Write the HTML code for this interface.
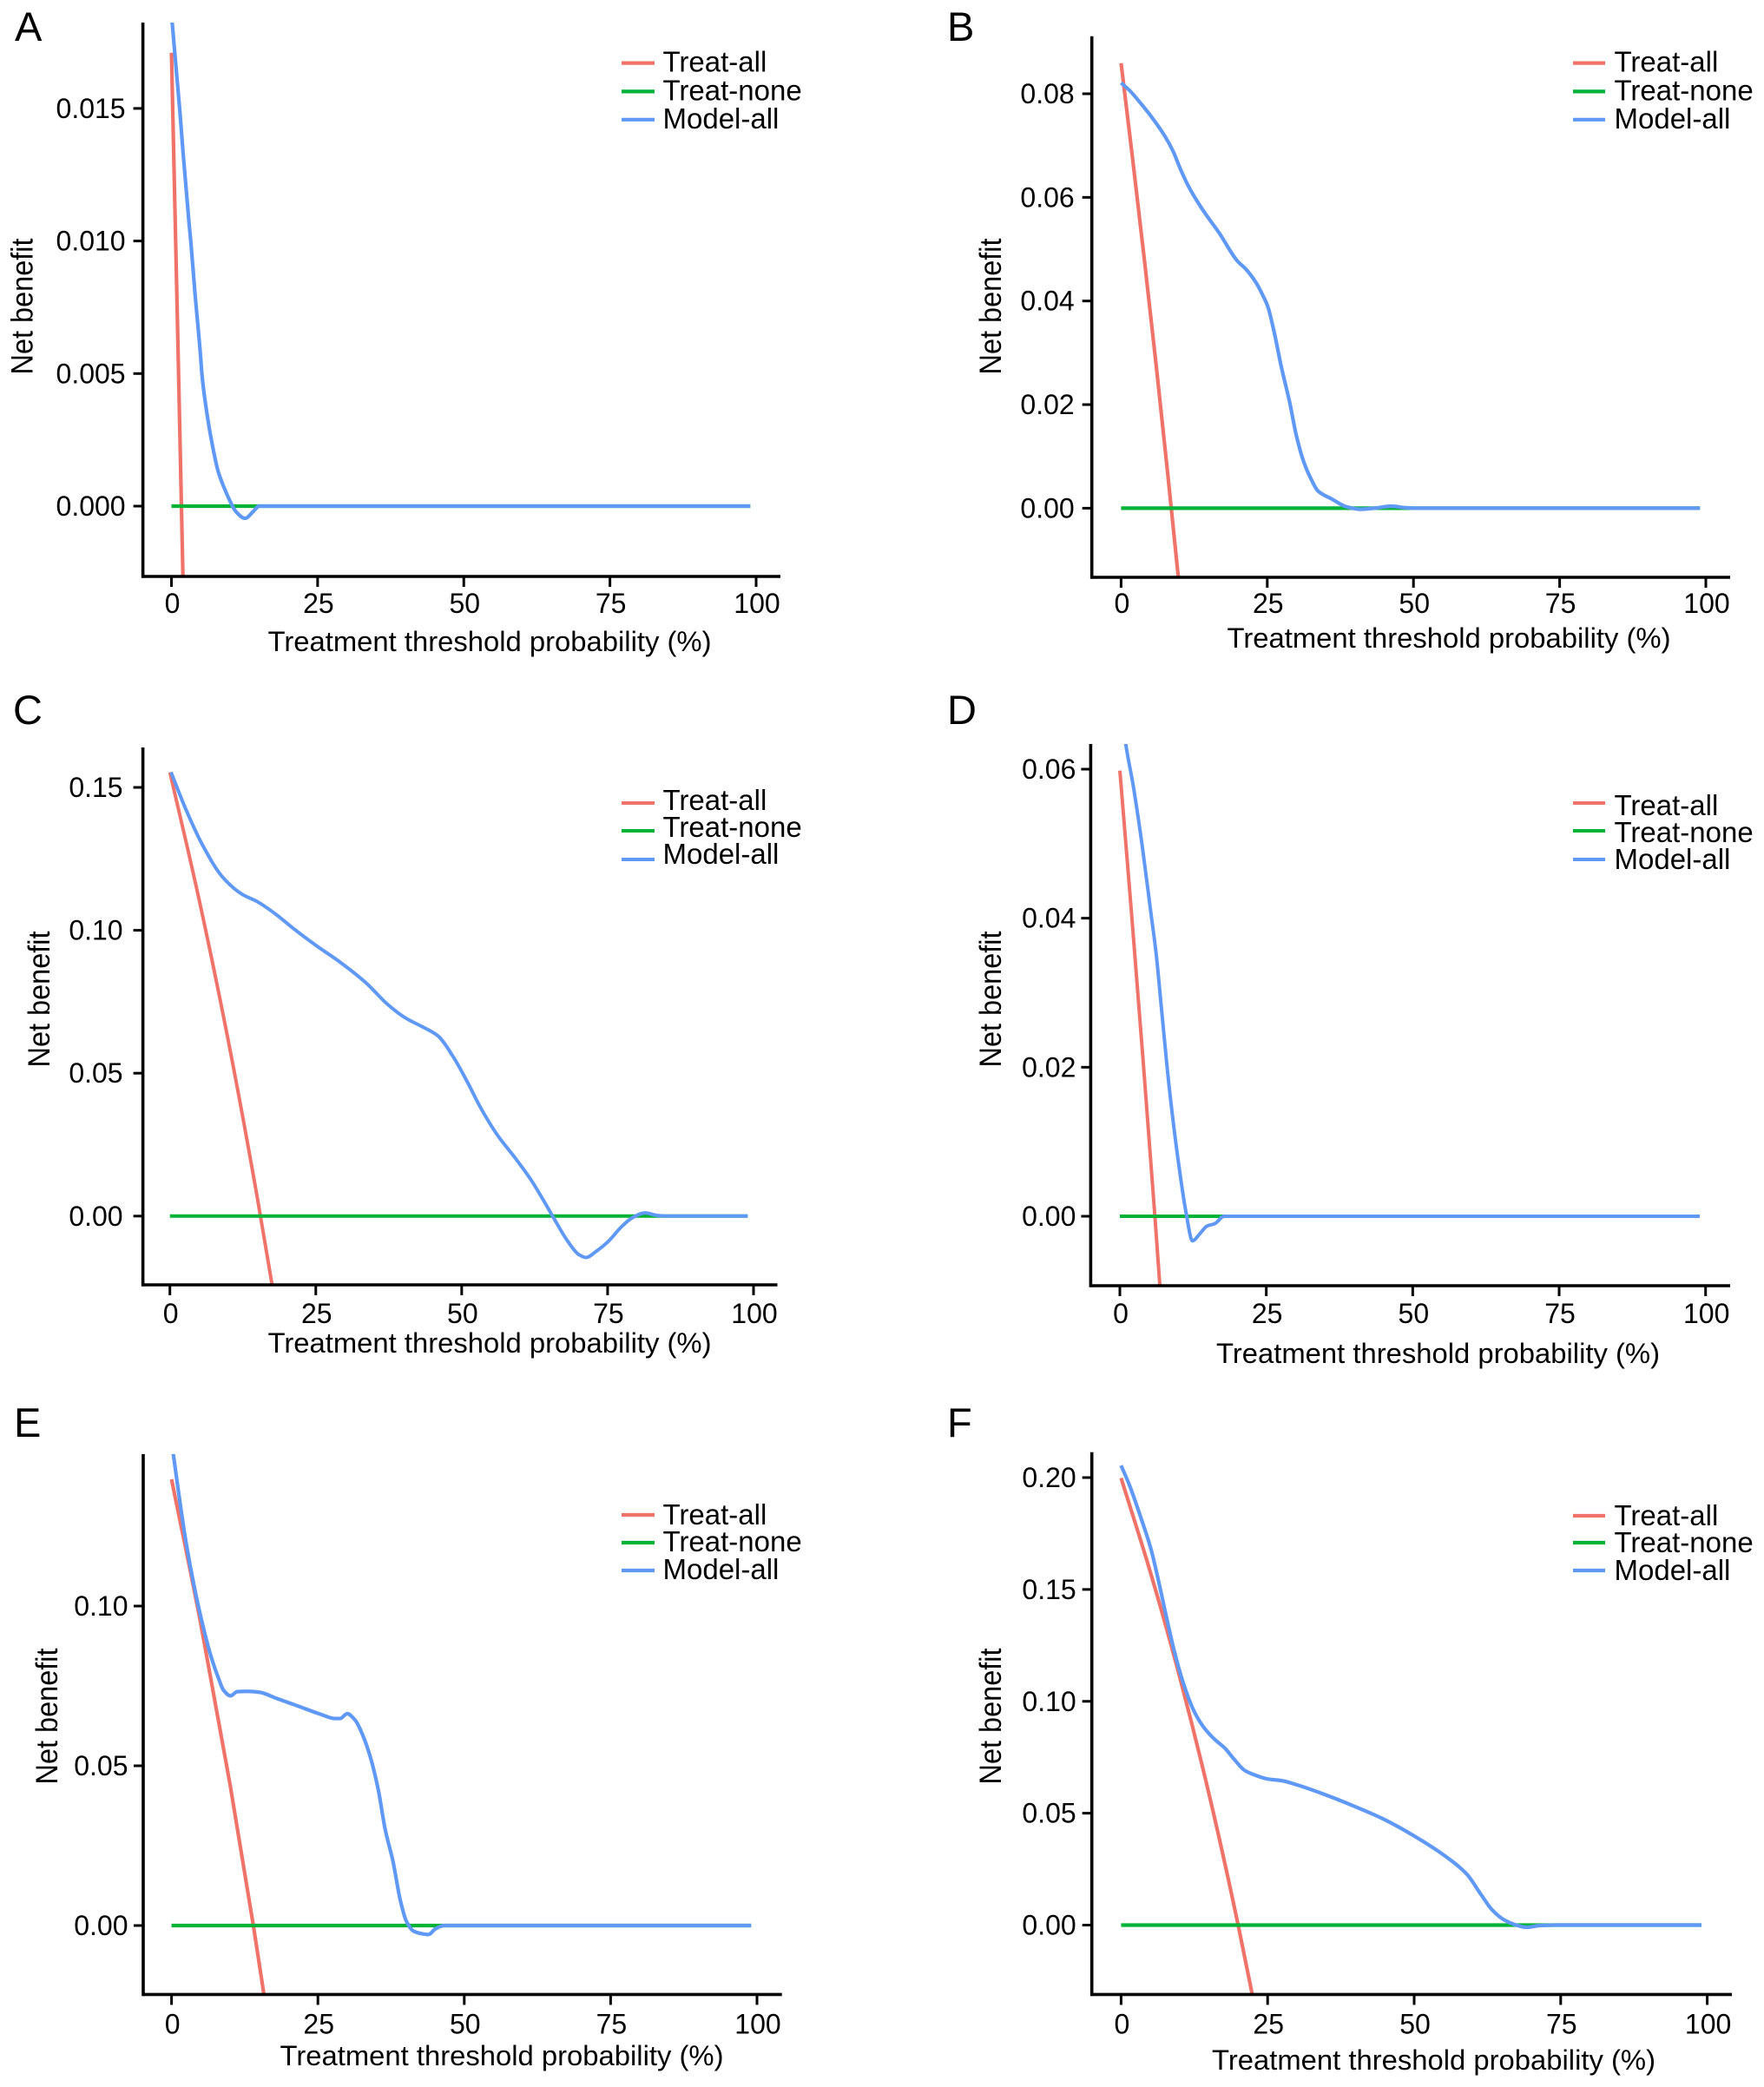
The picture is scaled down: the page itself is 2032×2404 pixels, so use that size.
<!DOCTYPE html>
<html lang="en">
<head>
<meta charset="utf-8">
<title>Decision curve analysis panels A–F</title>
<style>
html,body{margin:0;padding:0;background:#fff;width:2032px;height:2404px;overflow:hidden}
svg{display:block}
text{font-family:"Liberation Sans",Arial,sans-serif;fill:#000}
.tick-label{font-size:32px}
.axis-title{font-size:32px}
.legend-label{font-size:33px}
.y-title{font-size:35px}
.panel-letter{font-size:47px}
</style>
</head>
<body>
<svg id="figure" xmlns="http://www.w3.org/2000/svg" width="2032" height="2404" viewBox="0 0 2032 2404">
<rect width="2032" height="2404" fill="#fff"/>

<g id="panel-a">
  <text class="panel-letter" x="17" y="47">A</text>
  <text class="y-title" transform="translate(37.5,353) rotate(-90)" text-anchor="middle" textLength="157" lengthAdjust="spacingAndGlyphs">Net benefit</text>
  <text class="axis-title" x="564" y="750" text-anchor="middle" textLength="511" lengthAdjust="spacingAndGlyphs">Treatment threshold probability (%)</text>
  <g>
    <line x1="716" x2="754" y1="72.6" y2="72.6" stroke="#F0736A" stroke-width="4.2"/><text class="legend-label" x="763.5" y="82.5">Treat-all</text>
    <line x1="716" x2="754" y1="105.4" y2="105.4" stroke="#00B336" stroke-width="4.2"/><text class="legend-label" x="763.5" y="115.5">Treat-none</text>
    <line x1="716" x2="754" y1="137.8" y2="137.8" stroke="#5F99F5" stroke-width="4.2"/><text class="legend-label" x="763.5" y="148">Model-all</text>
  </g>
</g>

<g id="panel-b">
  <text class="panel-letter" x="1091" y="47">B</text>
  <text class="y-title" transform="translate(1153,353) rotate(-90)" text-anchor="middle" textLength="157" lengthAdjust="spacingAndGlyphs">Net benefit</text>
  <text class="axis-title" x="1669" y="746" text-anchor="middle" textLength="511" lengthAdjust="spacingAndGlyphs">Treatment threshold probability (%)</text>
  <g>
    <line x1="1812" x2="1849" y1="72.6" y2="72.6" stroke="#F0736A" stroke-width="4.2"/><text class="legend-label" x="1859.5" y="82.5">Treat-all</text>
    <line x1="1812" x2="1849" y1="105.4" y2="105.4" stroke="#00B336" stroke-width="4.2"/><text class="legend-label" x="1859.5" y="115.5">Treat-none</text>
    <line x1="1812" x2="1849" y1="137.8" y2="137.8" stroke="#5F99F5" stroke-width="4.2"/><text class="legend-label" x="1859.5" y="148">Model-all</text>
  </g>
</g>

<g id="panel-c">
  <text class="panel-letter" x="15" y="834">C</text>
  <text class="y-title" transform="translate(57,1151) rotate(-90)" text-anchor="middle" textLength="157" lengthAdjust="spacingAndGlyphs">Net benefit</text>
  <text class="axis-title" x="564" y="1558" text-anchor="middle" textLength="511" lengthAdjust="spacingAndGlyphs">Treatment threshold probability (%)</text>
  <g>
    <line x1="716" x2="754" y1="925" y2="925" stroke="#F0736A" stroke-width="4"/><text class="legend-label" x="763.5" y="933">Treat-all</text>
    <line x1="716" x2="754" y1="957" y2="957" stroke="#00B336" stroke-width="4"/><text class="legend-label" x="763.5" y="964">Treat-none</text>
    <line x1="716" x2="754" y1="990" y2="990" stroke="#5F99F5" stroke-width="4"/><text class="legend-label" x="763.5" y="995">Model-all</text>
  </g>
</g>

<g id="panel-d">
  <text class="panel-letter" x="1091" y="834">D</text>
  <text class="y-title" transform="translate(1153,1151) rotate(-90)" text-anchor="middle" textLength="157" lengthAdjust="spacingAndGlyphs">Net benefit</text>
  <text class="axis-title" x="1656.5" y="1570" text-anchor="middle" textLength="511" lengthAdjust="spacingAndGlyphs">Treatment threshold probability (%)</text>
  <g>
    <line x1="1812" x2="1849" y1="925" y2="925" stroke="#F0736A" stroke-width="4"/><text class="legend-label" x="1859.5" y="939">Treat-all</text>
    <line x1="1812" x2="1849" y1="957" y2="957" stroke="#00B336" stroke-width="4"/><text class="legend-label" x="1859.5" y="970">Treat-none</text>
    <line x1="1812" x2="1849" y1="990" y2="990" stroke="#5F99F5" stroke-width="4"/><text class="legend-label" x="1859.5" y="1001">Model-all</text>
  </g>
</g>

<g id="panel-e">
  <text class="panel-letter" x="16" y="1655">E</text>
  <text class="y-title" transform="translate(66,1977) rotate(-90)" text-anchor="middle" textLength="157" lengthAdjust="spacingAndGlyphs">Net benefit</text>
  <text class="axis-title" x="578" y="2379" text-anchor="middle" textLength="511" lengthAdjust="spacingAndGlyphs">Treatment threshold probability (%)</text>
  <g>
    <line x1="716" x2="754" y1="1745" y2="1745" stroke="#F0736A" stroke-width="4.2"/><text class="legend-label" x="763.5" y="1756">Treat-all</text>
    <line x1="716" x2="754" y1="1777" y2="1777" stroke="#00B336" stroke-width="4.2"/><text class="legend-label" x="763.5" y="1787">Treat-none</text>
    <line x1="716" x2="754" y1="1809" y2="1809" stroke="#5F99F5" stroke-width="4.2"/><text class="legend-label" x="763.5" y="1819">Model-all</text>
  </g>
</g>

<g id="panel-f">
  <text class="panel-letter" x="1091" y="1655">F</text>
  <text class="y-title" transform="translate(1153,1977) rotate(-90)" text-anchor="middle" textLength="157" lengthAdjust="spacingAndGlyphs">Net benefit</text>
  <text class="axis-title" x="1651.5" y="2384" text-anchor="middle" textLength="511" lengthAdjust="spacingAndGlyphs">Treatment threshold probability (%)</text>
  <g>
    <line x1="1812" x2="1849" y1="1746" y2="1746" stroke="#F0736A" stroke-width="4.2"/><text class="legend-label" x="1859.5" y="1757">Treat-all</text>
    <line x1="1812" x2="1849" y1="1777" y2="1777" stroke="#00B336" stroke-width="4.2"/><text class="legend-label" x="1859.5" y="1788">Treat-none</text>
    <line x1="1812" x2="1849" y1="1809" y2="1809" stroke="#5F99F5" stroke-width="4.2"/><text class="legend-label" x="1859.5" y="1820">Model-all</text>
  </g>
</g>
</svg>

<script>
// ---------- shared categories ----------
const xTickLabels = ['0', '25', '50', '75', '100'];
const treatNoneThreshold = [0, 99];
const treatNoneValues = [0, 0];

// ---------- panel A ----------
const yTicksA = ['0.000', '0.005', '0.010', '0.015'];
const treatAllThresholdA = [0, 1, 2, 3];
const treatAllValuesA = [0.0171, 0.0072, -0.0030, -0.0132];
const modelThresholdA = [0.1, 1, 1.4, 2, 3, 3.3, 4, 5, 5.2, 6, 7, 8, 9, 10, 11, 12.6, 14, 15, 99];
const modelValuesA = [0.0183, 0.0160, 0.0150, 0.0133, 0.0107, 0.0100, 0.0081, 0.0056, 0.0050, 0.0036, 0.0023, 0.0013, 0.0007, 0.0002, -0.0002, -0.00046, -0.0002, 0, 0];

// ---------- panel B ----------
const yTicksB = ['0.00', '0.02', '0.04', '0.06', '0.08'];
const treatAllThresholdB = [0, 2, 4, 6, 8, 10];
const treatAllValuesB = [0.0859, 0.0672, 0.0478, 0.0276, 0.0064, -0.0157];
const modelThresholdB = [0, 1.4, 3.4, 5.3, 7.5, 8.9, 10.1, 11.5, 13.9, 16.8, 19.9, 21.3, 23.1, 24.1, 25.1, 26.2, 27.4, 28.8, 30, 31.25, 32.5, 33.7, 36, 38.5, 40.9, 43.3, 46.2, 48.6, 50.5, 99];
const modelValuesB = [0.0821, 0.0807, 0.0781, 0.0754, 0.0718, 0.0689, 0.0656, 0.0622, 0.0577, 0.0531, 0.0477, 0.0462, 0.0435, 0.0414, 0.0389, 0.0339, 0.0273, 0.0206, 0.0139, 0.0089, 0.0056, 0.0033, 0.0018, 0.0003, -0.0002, 0, 0.0004, 0.0001, 0, 0];

// ---------- panel C ----------
const yTicksC = ['0.00', '0.05', '0.10', '0.15'];
const treatAllThresholdC = [0, 5, 10, 15, 18];
const treatAllValuesC = [0.1553, 0.1108, 0.0614, 0.0062, -0.0301];
const modelThresholdC = [0.2, 2.7, 5.6, 9, 12.3, 15, 18.1, 21, 24.9, 29.2, 33.5, 37.4, 40.3, 43.2, 45.9, 48.5, 50.9, 53.3, 56.2, 59.1, 61.9, 63.9, 65.8, 68.2, 70.1, 71.3, 73, 75.1, 77.4, 79.3, 81.4, 83.6, 85.5, 99];
const modelValuesC = [0.1553, 0.1425, 0.1298, 0.1187, 0.1127, 0.1100, 0.1057, 0.1009, 0.0949, 0.0888, 0.0818, 0.0739, 0.0694, 0.0663, 0.0631, 0.0559, 0.0472, 0.0377, 0.0281, 0.0205, 0.0126, 0.0059, -0.0008, -0.0089, -0.0135, -0.0145, -0.0124, -0.0089, -0.0037, -0.0005, 0.0011, 0.0002, 0, 0];

// ---------- panel D ----------
const yTicksD = ['0.00', '0.02', '0.04', '0.06'];
const treatAllThresholdD = [0, 2, 4, 6, 7];
const treatAllValuesD = [0.0598, 0.0406, 0.0206, -0.0002, -0.0112];
const modelThresholdD = [0.5, 1, 2.3, 3.8, 5.3, 6.2, 7.1, 8.4, 9.8, 11.3, 12.4, 13.6, 14.9, 16.2, 17.8, 99];
const modelValuesD = [0.0665, 0.0634, 0.0577, 0.0498, 0.0407, 0.0352, 0.0279, 0.0175, 0.0084, 0.0005, -0.0033, -0.0024, -0.0013, -0.0010, 0, 0];

// ---------- panel E ----------
const yTicksE = ['0.00', '0.05', '0.10'];
const treatAllThresholdE = [0, 5, 10, 14, 16];
const treatAllValuesE = [0.1397, 0.0944, 0.0441, -0.0003, -0.0242];
const modelThresholdE = [0, 0.3, 2.4, 3.8, 5.3, 6.7, 8, 8.9, 10.1, 11.2, 13, 15.1, 17.8, 21.6, 25.5, 27.9, 28.8, 30, 31.4, 32.7, 33.9, 35.3, 36.5, 37.8, 39.1, 40.1, 41.3, 42.6, 43.9, 45.1, 46.6, 99];
const modelValuesE = [0.1517, 0.1476, 0.1208, 0.1068, 0.0943, 0.0845, 0.0775, 0.0736, 0.0719, 0.0732, 0.0733, 0.0730, 0.0712, 0.0687, 0.0661, 0.0648, 0.0648, 0.0663, 0.0642, 0.0594, 0.0531, 0.0426, 0.0300, 0.0203, 0.0077, 0.0014, -0.0017, -0.0025, -0.0028, -0.0010, 0, 0];

// ---------- panel F ----------
const yTicksF = ['0.00', '0.05', '0.10', '0.15', '0.20'];
const treatAllThresholdF = [0, 5, 10, 15, 20, 23];
const treatAllValuesF = [0.1998, 0.1577, 0.1109, 0.0586, -0.0003, -0.0392];
const modelThresholdF = [0, 1.4, 3.4, 5.1, 6.2, 7.7, 9.1, 10.6, 12.5, 14.1, 15.8, 17.8, 19.2, 21.1, 23, 25, 27.5, 30.2, 35, 39.8, 44.6, 49.9, 55.2, 59, 61.4, 63.3, 65.3, 67.2, 69.1, 71.5, 73.9, 99];
const modelValuesF = [0.2054, 0.1968, 0.1819, 0.1680, 0.1560, 0.1381, 0.1222, 0.1083, 0.0953, 0.0884, 0.0834, 0.0788, 0.0744, 0.0691, 0.0669, 0.0653, 0.0645, 0.0625, 0.0581, 0.0531, 0.0476, 0.0400, 0.0310, 0.0227, 0.0137, 0.0068, 0.0024, 0.0002, -0.0010, -0.0002, 0, 0];

// ---------- panel wiring (data) ----------
const panelSeries = {
  a: { yTicks: yTicksA, allX: treatAllThresholdA, allY: treatAllValuesA, modelX: modelThresholdA, modelY: modelValuesA },
  b: { yTicks: yTicksB, allX: treatAllThresholdB, allY: treatAllValuesB, modelX: modelThresholdB, modelY: modelValuesB },
  c: { yTicks: yTicksC, allX: treatAllThresholdC, allY: treatAllValuesC, modelX: modelThresholdC, modelY: modelValuesC },
  d: { yTicks: yTicksD, allX: treatAllThresholdD, allY: treatAllValuesD, modelX: modelThresholdD, modelY: modelValuesD },
  e: { yTicks: yTicksE, allX: treatAllThresholdE, allY: treatAllValuesE, modelX: modelThresholdE, modelY: modelValuesE },
  f: { yTicks: yTicksF, allX: treatAllThresholdF, allY: treatAllValuesF, modelX: modelThresholdF, modelY: modelValuesF }
};

// ---------- layout (pixels, separate from data) ----------
const panelLayout = {
  a: { axisX: 164.6, right: 899, top: 26, bottom: 664, x0: 197.5, x100: 871, y0: 583, refVal: 0.015, refPx: 124.9, xLabelY: 706, gap: 20, stroke: 4.2 },
  b: { axisX: 1257.7, right: 1993, top: 41.8, bottom: 665, x0: 1291.4, x100: 1965, y0: 585.4, refVal: 0.08, refPx: 108, xLabelY: 706, gap: 20, stroke: 4.2 },
  c: { axisX: 164.6, right: 895.5, top: 861, bottom: 1480, x0: 195.7, x100: 868, y0: 1400.8, refVal: 0.15, refPx: 907, xLabelY: 1524, gap: 23, stroke: 4 },
  d: { axisX: 1256.4, right: 1993, top: 857, bottom: 1481, x0: 1290, x100: 1964.7, y0: 1401, refVal: 0.06, refPx: 886, xLabelY: 1524, gap: 17, stroke: 4 },
  e: { axisX: 165, right: 900.7, top: 1675, bottom: 2297.4, x0: 197.6, x100: 872, y0: 2218, refVal: 0.10, refPx: 1850, xLabelY: 2342.5, gap: 17.5, stroke: 4.2 },
  f: { axisX: 1257.7, right: 1995, top: 1672.8, bottom: 2297.4, x0: 1291.4, x100: 1966.6, y0: 2217.5, refVal: 0.20, refPx: 1702, xLabelY: 2342.5, gap: 18, stroke: 4.2 }
};

const SVG_NS = 'http://www.w3.org/2000/svg';
const figure = document.getElementById('figure');
const defs = document.createElementNS(SVG_NS, 'defs');
figure.appendChild(defs);

function svgEl(tag, attrs, parent) {
  const el = document.createElementNS(SVG_NS, tag);
  Object.keys(attrs).forEach(function (k) { el.setAttribute(k, attrs[k]); });
  parent.appendChild(el);
  return el;
}

// Monotone-x cubic path through the given pixel points (no overshoot on uneven spacing).
function monotonePath(px, py) {
  const n = px.length;
  if (n < 3) {
    return 'M' + px.map(function (x, i) { return x.toFixed(2) + ',' + py[i].toFixed(2); }).join('L');
  }
  const h = [], d = [], m = new Array(n);
  for (let i = 0; i < n - 1; i++) {
    h[i] = px[i + 1] - px[i];
    d[i] = (py[i + 1] - py[i]) / h[i];
  }
  m[0] = d[0];
  m[n - 1] = d[n - 2];
  for (let i = 1; i < n - 1; i++) {
    if (d[i - 1] * d[i] <= 0) {
      m[i] = 0;
    } else {
      const w1 = 2 * h[i] + h[i - 1];
      const w2 = h[i] + 2 * h[i - 1];
      m[i] = (w1 + w2) / (w1 / d[i - 1] + w2 / d[i]);
    }
  }
  let path = 'M' + px[0].toFixed(2) + ',' + py[0].toFixed(2);
  for (let i = 0; i < n - 1; i++) {
    const c1x = px[i] + h[i] / 3;
    const c1y = py[i] + m[i] * h[i] / 3;
    const c2x = px[i + 1] - h[i] / 3;
    const c2y = py[i + 1] - m[i + 1] * h[i] / 3;
    path += 'C' + c1x.toFixed(2) + ',' + c1y.toFixed(2) + ' ' + c2x.toFixed(2) + ',' + c2y.toFixed(2) + ' ' + px[i + 1].toFixed(2) + ',' + py[i + 1].toFixed(2);
  }
  return path;
}

function drawSeries(parent, xs, ys, xScale, yScale, color, name, clipId, width) {
  const d = monotonePath(xs.map(xScale), ys.map(yScale));
  const line = svgEl('path', {
    d: d, fill: 'none', stroke: color, 'stroke-width': width,
    'stroke-linejoin': 'round', 'clip-path': 'url(#' + clipId + ')'
  }, parent);
  
  
}

Object.keys(panelSeries).forEach(function (key) {
  const s = panelSeries[key];
  const g = panelLayout[key];
  const root = document.getElementById('panel-' + key);
  const xScale = function (v) { return g.x0 + v * (g.x100 - g.x0) / 100; };
  const yScale = function (v) { return g.y0 + v * (g.refPx - g.y0) / g.refVal; };

  const clipId = 'clip-' + key;
  const clip = svgEl('clipPath', { id: clipId }, defs);
  svgEl('rect', { x: g.axisX, y: g.top, width: g.right - g.axisX, height: g.bottom - g.top }, clip);

  drawSeries(root, s.allX, s.allY, xScale, yScale, '#F0736A', 'treat-all-line', clipId, g.stroke);
  drawSeries(root, treatNoneThreshold, treatNoneValues, xScale, yScale, '#00B336', 'treat-none-line', clipId, g.stroke);
  drawSeries(root, s.modelX, s.modelY, xScale, yScale, '#5F99F5', 'model-all-line', clipId, g.stroke);

  const yAxis = svgEl('line', { x1: g.axisX, x2: g.axisX, y1: g.top, y2: g.bottom + 1.8, stroke: '#000', 'stroke-width': 3.6 }, root);
  
  

  const xAxis = svgEl('line', { x1: g.axisX, x2: g.right, y1: g.bottom, y2: g.bottom, stroke: '#000', 'stroke-width': 3.6 }, root);
  
  

  s.yTicks.forEach(function (label) {
    const py = yScale(parseFloat(label));
    const tick = svgEl('line', { x1: g.axisX - 11, x2: g.axisX, y1: py, y2: py, stroke: '#000', 'stroke-width': 3 }, root);
    
    
    const text = svgEl('text', { x: g.axisX - g.gap, y: py + 11, 'text-anchor': 'end', class: 'tick-label' }, root);
    text.textContent = label;
    
    
  });

  xTickLabels.forEach(function (label) {
    const px = xScale(parseFloat(label));
    const tick = svgEl('line', { x1: px, x2: px, y1: g.bottom, y2: g.bottom + 12, stroke: '#000', 'stroke-width': 3 }, root);
    
    
    const text = svgEl('text', { x: px + 1, y: g.xLabelY, 'text-anchor': 'middle', class: 'tick-label' }, root);
    text.textContent = label;
    
    
  });
});
</script>
</body>
</html>
